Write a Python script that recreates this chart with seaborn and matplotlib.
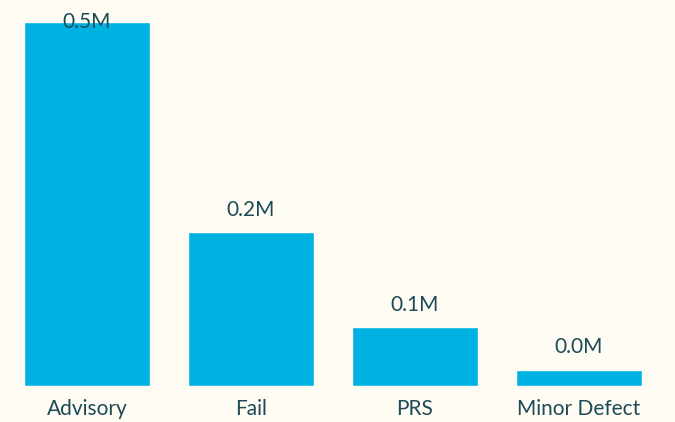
import seaborn as sns
import matplotlib.pyplot as plt
import pandas as pd

# data
categories = ['Advisory', 'Fail', 'PRS', 'Minor Defect']
counts = [500000, 211000, 81000, 22000]

BG = '#FFFCF4'
BAR = '#00B2E2'
TXT = '#1C4A57'
FS = 15

sns.set_theme(style='white')
plt.rcParams['font.family'] = ['Lato', 'DejaVu Sans']

df = pd.DataFrame({'category': categories, 'count': counts})

fig = plt.figure(figsize=(6.75, 4.22), dpi=100, facecolor=BG)
ax = fig.add_axes([5 / 675, 36 / 422, 656 / 675, 364 / 422])
ax.set_facecolor(BG)

sns.barplot(data=df, x='category', y='count', color=BAR, width=0.768,
            saturation=1, ax=ax)

ax.set_xlim(-0.5, len(categories) - 0.5)
ax.set_ylim(0, max(counts))

# value labels, the tallest one sits on the top edge
for i, v in enumerate(counts):
    lbl = f'{v / 1e6:.1f}M'
    if v >= max(counts):
        ax.annotate(lbl, (i, v), xytext=(0, 0), textcoords='offset points',
                    ha='center', va='center', fontsize=FS, color=TXT,
                    annotation_clip=False)
    else:
        ax.annotate(lbl, (i, v), xytext=(0, 9), textcoords='offset points',
                    ha='center', va='bottom', fontsize=FS, color=TXT,
                    annotation_clip=False)

ax.set_xlabel('')
ax.set_ylabel('')
ax.set_yticks([])
ax.tick_params(axis='x', length=0, pad=9.5, labelsize=FS, labelcolor=TXT)
sns.despine(ax=ax, left=True, bottom=True)

plt.savefig('out.png', dpi=100, facecolor=BG)
